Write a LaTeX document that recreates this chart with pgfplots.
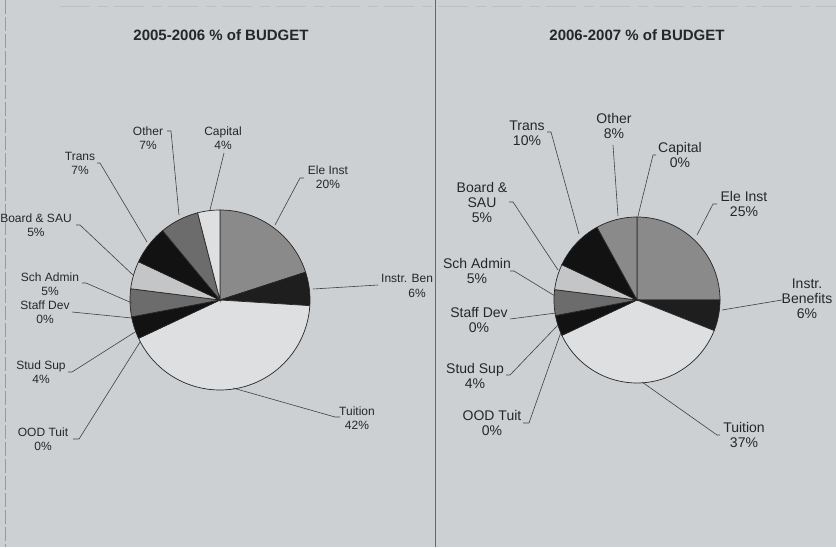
\documentclass[border=0pt]{standalone}
\usepackage{pgfplots}
\pgfplotsset{compat=1.18}
\usepackage{fontspec}
\setmainfont{Liberation Sans}

\definecolor{bgc}{RGB}{205,208,211}
\definecolor{cwhite}{RGB}{222,223,224}
\definecolor{clight}{RGB}{196,197,198}
\definecolor{cmid}{RGB}{138,138,138}
\definecolor{cdim}{RGB}{108,108,108}
\definecolor{cdark}{RGB}{30,30,30}
\definecolor{cblack}{RGB}{18,18,18}

% slice: cx, cy, r, cumulative % before, %, fill  (clockwise from 12 o'clock)
\newcommand{\slice}[6]{%
  \addplot[draw=black!85, line width=0.7pt, fill=#6, mark=none, forget plot,
    domain=90-3.6*(#4+#5):90-3.6*#4, samples=60, variable=\t]
    ({#1+#3*cos(\t)}, {#2-#3*sin(\t)}) -- (axis cs:#1,#2) -- cycle;}

\tikzset{
  lead/.style={draw=black!75, line width=0.6pt},
  labA/.style={align=center, font=\fontsize{12}{14}\selectfont, text=black!85, inner sep=0pt},
  labB/.style={align=center, font=\fontsize{14}{15}\selectfont, text=black!85, inner sep=0pt},
  ttl/.style={font=\fontsize{15}{17}\selectfont\bfseries, text=black!85, inner sep=0pt}
}

\begin{document}
\begin{tikzpicture}
\begin{axis}[
  name=ax,
  scale only axis,
  width=836pt, height=547pt,
  xmin=0, xmax=836, ymin=0, ymax=547,
  y dir=reverse,
  axis line style={draw=none},
  ticks=none,
  axis background/.style={fill=bgc},
  clip=false,
]
% panel borders
\draw[black!40, line width=0.6pt, dash pattern=on 14pt off 3pt] (axis cs:5,0) -- (axis cs:5,547);
\draw[black!25, line width=0.6pt, dash pattern=on 30pt off 8pt on 10pt off 6pt] (axis cs:60,6) -- (axis cs:836,6);
\draw[black!60, line width=0.8pt] (axis cs:435,0) -- (axis cs:435,547);

% ---- 2005-2006 ----
\node[ttl] at (axis cs:221,35) {2005-2006 \% of BUDGET};
\slice{220}{300}{90}{0}{20}{cmid}    % Ele Inst
\slice{220}{300}{90}{20}{6}{cdark}   % Instr. Ben
\slice{220}{300}{90}{26}{42}{cwhite} % Tuition
\slice{220}{300}{90}{68}{4}{cblack}  % Stud Sup
\slice{220}{300}{90}{72}{5}{cdim}    % Sch Admin
\slice{220}{300}{90}{77}{5}{clight}  % Board & SAU
\slice{220}{300}{90}{82}{7}{cblack}  % Trans
\slice{220}{300}{90}{89}{7}{cdim}    % Other
\slice{220}{300}{90}{96}{4}{cwhite}  % Capital

\draw[lead] (axis cs:304,178) -- (axis cs:300,178) -- (axis cs:275,225);
\draw[lead] (axis cs:378,285) -- (axis cs:313,289);
\draw[lead] (axis cs:340,417) -- (axis cs:335,417) -- (axis cs:233,388);
\draw[lead] (axis cs:73,439) -- (axis cs:79,439) -- (axis cs:140,342);
\draw[lead] (axis cs:68,372) -- (axis cs:72,372) -- (axis cs:135,332);
\draw[lead] (axis cs:72,312) -- (axis cs:132,318);
\draw[lead] (axis cs:82,283) -- (axis cs:86,283) -- (axis cs:132,303);
\draw[lead] (axis cs:76,225) -- (axis cs:80,225) -- (axis cs:133,275);
\draw[lead] (axis cs:97,163) -- (axis cs:100,163) -- (axis cs:147,242);
\draw[lead] (axis cs:167,131) -- (axis cs:171,131) -- (axis cs:179,215);
\draw[lead] (axis cs:224,153) -- (axis cs:210,210);

\node[labA] at (axis cs:148,138) {Other\\7\%};
\node[labA] at (axis cs:223,138) {Capital\\4\%};
\node[labA] at (axis cs:80,163) {Trans\\7\%};
\node[labA] at (axis cs:328,177.5) {Ele Inst\\20\%};
\node[labA, anchor=west] at (axis cs:381,278) {Instr. Ben};
\node[labA] at (axis cs:417,293) {6\%};
\node[labA] at (axis cs:357,418) {Tuition\\42\%};
\node[labA] at (axis cs:36,225.5) {Board \& SAU\\5\%};
\node[labA] at (axis cs:50,284.5) {Sch Admin\\5\%};
\node[labA] at (axis cs:45,312) {Staff Dev\\0\%};
\node[labA] at (axis cs:41,372) {Stud Sup\\4\%};
\node[labA] at (axis cs:43,439) {OOD Tuit\\0\%};

% ---- 2006-2007 ----
\node[ttl] at (axis cs:637,35) {2006-2007 \% of BUDGET};
\slice{637}{300}{83}{0}{25}{cmid}    % Ele Inst
\slice{637}{300}{83}{25}{6}{cdark}   % Instr. Benefits
\slice{637}{300}{83}{31}{37}{cwhite} % Tuition
\slice{637}{300}{83}{68}{4}{cblack}  % Stud Sup
\slice{637}{300}{83}{72}{5}{cdim}    % Sch Admin
\slice{637}{300}{83}{77}{5}{clight}  % Board & SAU
\slice{637}{300}{83}{82}{10}{cblack} % Trans
\slice{637}{300}{83}{92}{8}{cmid}    % Other

\draw[lead] (axis cs:547,132) -- (axis cs:551,132) -- (axis cs:579,234);
\draw[lead] (axis cs:613,145) -- (axis cs:618,216);
\draw[lead] (axis cs:656,155) -- (axis cs:653,155) -- (axis cs:638,216);
\draw[lead] (axis cs:717,204) -- (axis cs:713,204) -- (axis cs:697,235);
\draw[lead] (axis cs:782,300) -- (axis cs:722,310);
\draw[lead] (axis cs:720,435) -- (axis cs:717,435) -- (axis cs:642,382);
\draw[lead] (axis cs:523,423) -- (axis cs:529,423) -- (axis cs:561,332);
\draw[lead] (axis cs:506,375) -- (axis cs:510,375) -- (axis cs:558,325);
\draw[lead] (axis cs:510,319) -- (axis cs:556,313);
\draw[lead] (axis cs:510,271) -- (axis cs:514,271) -- (axis cs:555,296);
\draw[lead] (axis cs:509,202) -- (axis cs:513,202) -- (axis cs:558,270);

\node[labB] at (axis cs:527,133.5) {Trans\\10\%};
\node[labB] at (axis cs:614,126) {Other\\8\%};
\node[labB] at (axis cs:680,155) {Capital\\0\%};
\node[labB] at (axis cs:744,204) {Ele Inst\\25\%};
\node[labB] at (axis cs:807,299) {Instr.\\Benefits\\6\%};
\node[labB] at (axis cs:744,434.5) {Tuition\\37\%};
\node[labB] at (axis cs:482,202) {Board \&\\SAU\\5\%};
\node[labB] at (axis cs:477,270.5) {Sch Admin\\5\%};
\node[labB] at (axis cs:479,319.5) {Staff Dev\\0\%};
\node[labB] at (axis cs:475,375.5) {Stud Sup\\4\%};
\node[labB] at (axis cs:492,422.5) {OOD Tuit\\0\%};
\end{axis}
\pgfresetboundingbox
\path (ax.south west) rectangle (ax.north east);
\end{tikzpicture}
\end{document}
